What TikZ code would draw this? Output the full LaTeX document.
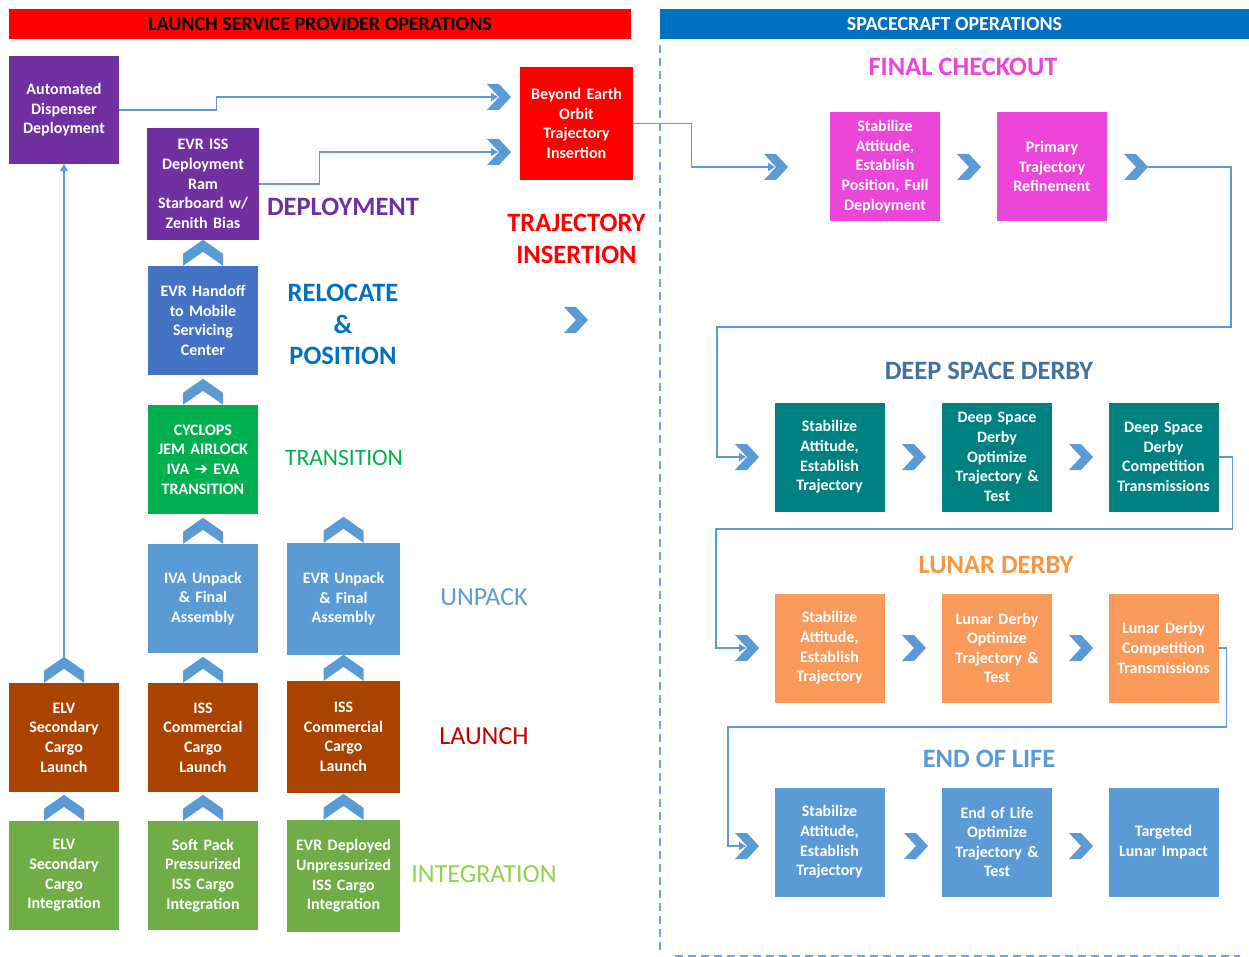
\documentclass[tikz,border=0pt]{standalone}
\usepackage{fontspec}
\setmainfont{Carlito}
\newfontfamily\symfont{DejaVu Sans}
\usetikzlibrary{arrows.meta}

\definecolor{cPurple}{HTML}{7030A0}
\definecolor{cBlue}{HTML}{4472C4}
\definecolor{cGreen}{HTML}{00B050}
\definecolor{cSky}{HTML}{5B9BD5}
\definecolor{cBrown}{HTML}{AA4200}
\definecolor{cLeaf}{HTML}{70AD47}
\definecolor{cRed}{HTML}{FF0000}
\definecolor{cMagenta}{HTML}{EC45DA}
\definecolor{cTeal}{HTML}{008080}
\definecolor{cOrange}{HTML}{F99A5A}
\definecolor{cOrangeT}{HTML}{F79646}
\definecolor{cNavy}{HTML}{0070C0}
\definecolor{cDeep}{HTML}{41719C}
\definecolor{cDark}{HTML}{C00000}
\definecolor{cLime}{HTML}{92D050}
\definecolor{cLine}{HTML}{5B9BD5}
\definecolor{cDash}{HTML}{6FA5DA}

\begin{document}
\begin{tikzpicture}[x=1pt,y=-1pt,
  box/.style={rectangle, inner sep=0pt, minimum width=110pt, minimum height=109pt,
    text width=108pt, align=center, text=white,
    font=\fontsize{16}{19.6}\selectfont\bfseries},
  wbox/.style={box, minimum width=113pt, minimum height=112pt},
  hdr/.style={rectangle, inner sep=0pt, minimum height=30pt,
    font=\fontsize{20}{24}\selectfont\bfseries},
  tag/.style={inner sep=0pt, align=center, font=\fontsize{26.5}{31.5}\selectfont\bfseries},
  ltag/.style={inner sep=0pt, align=center, font=\fontsize{26}{30}\selectfont},
  chevfill/.style={fill=cSky},
  conn/.style={draw=cLine, line width=1.1pt},
  arr/.style={-{Triangle[length=7pt,width=8pt]}},
  sep/.style={draw=cDash, line width=1.3pt, dash pattern=on 8pt off 5pt},
  chevright/.pic={
    \fill[chevfill] (-12,-13) -- (0,-13) -- (12,0) -- (0,13) -- (-12,13) -- (0,0) -- cycle;
    \coordinate (-in) at (-1,0);
    \coordinate (-tip) at (12,0);
  },
  chevup/.pic={
    \fill[chevfill] (-20,0) -- (-20,-12) -- (0,-26) -- (20,-12) -- (20,0) -- (0,-14) -- cycle;
    \coordinate (-apex) at (0,-26);
  }]
\useasboundingbox (0,0) rectangle (1249,957);

% ---------- headers ----------
\node[hdr, fill=cRed, minimum width=622pt, text=black] (hdrL) at (320,24) {LAUNCH SERVICE PROVIDER OPERATIONS};
\node[hdr, fill=cNavy, minimum width=589pt, text=white] (hdrR) at (954.5,24) {SPACECRAFT OPERATIONS};

% ---------- separators ----------
\coordinate (sepTop) at (660,45);
\coordinate (sepBot) at (660,952);
\coordinate (sepL) at (675,956);
\coordinate (sepR) at (1240,956);
\draw[sep] (sepTop) -- (sepBot);
\draw[sep] (sepL) -- (sepR);

% ---------- launch service provider boxes ----------
\node[box, fill=cPurple, minimum height=108pt] (auto) at (64,110) {Automated\\Dispenser\\Deployment};
\node[box, fill=cPurple, minimum width=112pt, minimum height=112pt] (evriss) at (203,184) {EVR ISS\\Deployment\\Ram\\Starboard w/\\Zenith Bias};
\node[box, fill=cBlue] (handoff) at (203,320.5) {EVR Handoff\\to Mobile\\Servicing\\Center};
\node[box, fill=cGreen] (cyclops) at (203,459.5) {CYCLOPS\\JEM AIRLOCK\\IVA {\symfont\bfseries\fontsize{16}{19.6}\selectfont ➔} EVA\\TRANSITION};
\node[box, fill=cSky] (ivaun) at (203,598.5) {IVA Unpack\\\& Final\\Assembly};
\node[wbox, fill=cSky] (evrun) at (343.5,599) {EVR Unpack\\\& Final\\Assembly};
\node[box, fill=cBrown] (elvL) at (64,737.5) {ELV\\Secondary\\Cargo\\Launch};
\node[box, fill=cBrown] (issL1) at (203,737.5) {ISS\\Commercial\\Cargo\\Launch};
\node[wbox, fill=cBrown] (issL2) at (343.5,737) {ISS\\Commercial\\Cargo\\Launch};
\node[box, fill=cLeaf] (elvI) at (64,875.5) {ELV\\Secondary\\Cargo\\Integration};
\node[box, fill=cLeaf] (softI) at (203,875.5) {Soft Pack\\Pressurized\\ISS Cargo\\Integration};
\node[wbox, fill=cLeaf] (evrI) at (343.5,876) {EVR Deployed\\Unpressurized\\ISS Cargo\\Integration};
\node[wbox, minimum height=113pt, fill=cRed] (beo) at (576.5,123.5) {Beyond Earth\\Orbit\\Trajectory\\Insertion};

% ---------- phase labels (left) ----------
\node[tag, text=cPurple] (lDeploy) at (343,207) {DEPLOYMENT};
\node[tag, text=cNavy] (lReloc) at (343,324.5) {RELOCATE\\\&\\POSITION};
\node[ltag, text=cGreen, font=\fontsize{23.5}{28}\selectfont] (lTrans) at (344,458) {TRANSITION};
\node[ltag, text=cSky] (lUnpack) at (484,597) {UNPACK};
\node[ltag, text=cDark] (lLaunch) at (484,736) {LAUNCH};
\node[ltag, text=cLime] (lInteg) at (484,874) {INTEGRATION};
\node[tag, text=cRed] (lTraj) at (576.5,239) {TRAJECTORY\\INSERTION};

% ---------- upward chevrons ----------
\pic (uA) at (handoff.north) {chevup};
\pic (uB) at (cyclops.north) {chevup};
\pic (uC) at (ivaun.north) {chevup};
\pic (uD) at (evrun.north) {chevup};
\pic (uE) at (elvL.north) {chevup};
\pic (uF) at (issL1.north) {chevup};
\pic (uG) at (issL2.north) {chevup};
\pic (uH) at (elvI.north) {chevup};
\pic (uI) at (softI.north) {chevup};
\pic (uJ) at (evrI.north) {chevup};

% ---------- right chevrons (left half) ----------
\pic (chA) at (499,97) {chevright};
\pic (chB) at (499,152) {chevright};
\pic (chC) at (576,320) {chevright};
\pic (chD) at (776,167) {chevright};

% ---------- spacecraft operations ----------
\node[tag, text=cMagenta] (lFinal) at (963,67) {FINAL CHECKOUT};
\node[box, fill=cMagenta] (fc1) at (885,166.5) {Stabilize\\Attitude,\\Establish\\Position, Full\\Deployment};
\node[box, fill=cMagenta] (fc2) at (1052,166.5) {Primary\\Trajectory\\Refinement};
\pic (chFC1) at (969,167) {chevright};
\pic (chFC2) at (1136,167) {chevright};

\node[tag, text=cDeep] (lDeep) at (989,371) {DEEP SPACE DERBY};
\node[box, fill=cTeal] (dd1) at (829.5,457) {Stabilize\\Attitude,\\Establish\\Trajectory};
\node[box, fill=cTeal] (dd2) at (997,457) {Deep Space\\Derby\\Optimize\\Trajectory \&\\Test};
\node[box, fill=cTeal] (dd3) at (1163.5,457) {Deep Space\\Derby\\Competition\\Transmissions};
\pic (chD1) at (747,457) {chevright};
\pic (chD2) at (914,457) {chevright};
\pic (chD3) at (1081,457) {chevright};

\node[tag, text=cOrangeT] (lLunar) at (996,565) {LUNAR DERBY};
\node[box, fill=cOrange] (lu1) at (829.5,648) {Stabilize\\Attitude,\\Establish\\Trajectory};
\node[box, fill=cOrange] (lu2) at (997,648) {Lunar Derby\\Optimize\\Trajectory \&\\Test};
\node[box, fill=cOrange] (lu3) at (1163.5,648) {Lunar Derby\\Competition\\Transmissions};
\pic (chL1) at (747,648) {chevright};
\pic (chL2) at (914,648) {chevright};
\pic (chL3) at (1081,648) {chevright};

\node[tag, text=cSky] (lEnd) at (989,759) {END OF LIFE};
\node[box, fill=cSky] (eo1) at (829.5,842) {Stabilize\\Attitude,\\Establish\\Trajectory};
\node[box, fill=cSky] (eo2) at (997,842) {End of Life\\Optimize\\Trajectory \&\\Test};
\node[box, fill=cSky] (eo3) at (1163.5,842) {Targeted\\Lunar Impact};
\pic (chE1) at (747,846) {chevright};
\pic (chE2) at (916,846) {chevright};
\pic (chE3) at (1081,846) {chevright};

% ---------- connectors ----------
\draw[conn, arr] (uE-apex) -- (auto.south);
\draw[conn, arr] (auto.east) -- ++(97,0) |- (chA-in);
\draw[conn, arr] (evriss.east) -- ++(60,0) |- (chB-in);
\draw[conn, arr] (beo.east) -- ++(58,0) |- (chD-in);
\draw[conn, arr] (chFC2-tip) -- ++(83,0) -- ++(0,160) -| ([xshift=-29pt]chD1-in) -- (chD1-in);
\draw[conn, arr] (dd3.east) -- ++(14,0) -- ++(0,72) -| ([xshift=-30pt]chL1-in) -- (chL1-in);
\draw[conn, arr] (lu3.east) -- ++(8,0) -- ++(0,79) -| ([xshift=-18pt]chE1-in) -- (chE1-in);
\end{tikzpicture}
\end{document}
